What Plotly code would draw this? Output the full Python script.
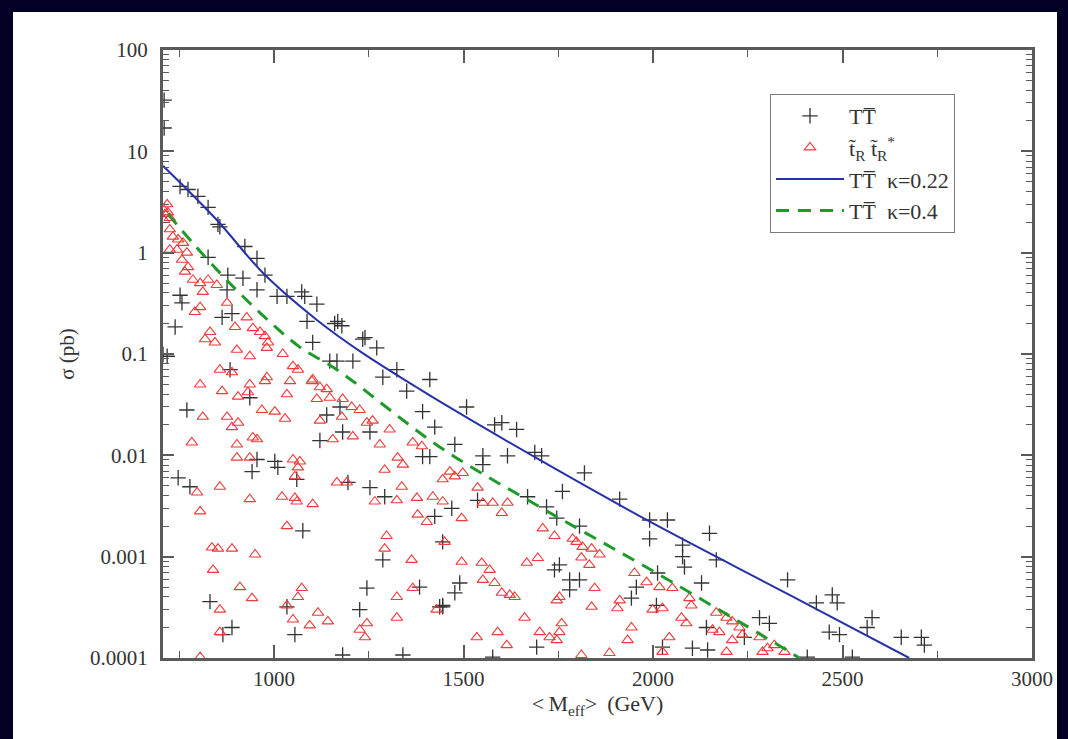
import plotly.graph_objects as go

# ---------------- data ----------------
# TT-bar scan points
tt_mass = [710, 710, 752, 773, 799, 826, 852, 857, 923, 955, 976, 826, 878, 918, 955, 1008, 1034, 1073,
           1081, 1113, 752, 757, 876, 739, 863, 889, 1087, 1102, 1160, 1168, 1179, 1234, 1240, 1271,
           1147, 1166, 1208, 1287, 1324, 1411, 707, 718, 884,
           770, 936, 1139, 1174, 1181, 1253, 1121, 1350, 1392, 1424, 1392, 1411, 955, 1002, 1010, 942,
           747, 778, 1060, 1195, 1253, 1292, 1424, 1076, 1287, 1445, 1245, 1384, 1226, 1437, 1445, 831,
           1034, 889, 1055, 865, 1181, 1340,
           1508, 1582, 1601, 1640, 1688, 1706, 1819, 1761, 1912, 1991, 2038, 2149, 1991, 2078, 2078,
           2083, 2167, 1477, 1551, 1551, 1616, 1669, 1719, 1746, 1806, 1537, 1469, 1753, 1740, 1780,
           1806, 1780, 1490, 1477, 1445, 1956, 1943, 2012, 2128, 2009, 2281, 2307, 2241, 2141, 1693,
           1577, 2104, 2144, 2025, 2355,
           2431, 2473, 2486, 2578, 2565, 2465, 2492, 2655, 2708, 2716, 2407, 2526]
tt_sigma = [32, 17, 4.5, 4.2, 3.6, 2.8, 1.9, 1.8, 1.15, 0.88, 0.6, 0.9, 0.6, 0.56, 0.43, 0.37, 0.37, 0.41,
            0.37, 0.31, 0.38, 0.32, 0.43, 0.185, 0.23, 0.25, 0.21, 0.13, 0.2, 0.21, 0.19, 0.14, 0.145, 0.115,
            0.085, 0.085, 0.085, 0.059, 0.07, 0.056, 0.099, 0.095, 0.07,
            0.028, 0.037, 0.025, 0.03, 0.017, 0.017, 0.014, 0.043, 0.027, 0.019, 0.0097, 0.0097, 0.0091,
            0.0087, 0.0076, 0.0069, 0.006, 0.0049, 0.0058, 0.0054, 0.0048, 0.0039, 0.0025, 0.0018,
            0.00093, 0.0014, 0.00049, 0.0005, 0.0003, 0.00032, 0.00032, 0.00036, 0.00032, 0.0002,
            0.00017, 0.00017, 0.000107, 0.000107,
            0.03, 0.02, 0.021, 0.018, 0.0107, 0.0099, 0.0067, 0.0044, 0.0037, 0.0023, 0.0023, 0.0017,
            0.0015, 0.0013, 0.001, 0.00079, 0.00093, 0.0128, 0.0099, 0.0081, 0.0099, 0.0039, 0.0031,
            0.0024, 0.002, 0.0036, 0.003, 0.00083, 0.00074, 0.00059, 0.00059, 0.00047, 0.00055, 0.00044,
            0.00033, 0.0005, 0.00039, 0.00069, 0.00055, 0.00033, 0.00025, 0.00022, 0.00016, 0.0002,
            0.000128, 0.000102, 0.000125, 0.00012, 0.000128, 0.00059,
            0.00035, 0.00042, 0.00035, 0.00025, 0.0002, 0.00018, 0.00017, 0.00016, 0.00016, 0.000134,
            0.000102, 0.000102]

# stop pair scan points
st_mass = [707, 712, 720, 725, 710, 718, 725, 733, 747, 760, 725, 744, 770, 757, 773, 765, 786, 805, 826,
           849, 812, 876, 805, 791, 928, 897, 831, 818, 844, 944, 963, 976, 984, 981, 902, 936, 1023,
           1050, 1063, 857, 889, 981, 805, 936, 1042, 1102, 1121,
           863, 905, 931, 976, 1034, 968, 1002, 876, 889, 905, 812, 1029, 1100, 1139, 1113, 1147, 1181,
           1179, 1205, 1226, 1245, 1260, 1121, 1155, 1208, 1279, 1305, 783, 902, 944, 955, 902, 936,
           1050, 1068, 1063, 1055, 1292, 1326, 1340, 1366, 1390, 1337, 857, 797, 805, 936, 1021, 1055,
           1060, 1102, 1166, 1192, 1266, 1324, 1377, 1419, 1445, 1379, 1403, 1034, 1297, 1292, 1363,
           836, 852, 889, 950, 839, 910, 942, 1073, 1063, 857, 1034, 1324, 1366, 1429, 1116, 1094, 1142,
           1050, 1324, 1226, 1245, 1240, 857, 805,
           1464, 1477, 1498, 1537, 1551, 1577, 1601, 1616, 1495, 1445, 1450, 1495, 1548, 1569, 1551,
           1582, 1601, 1622, 1635, 1667, 1696, 1709, 1740, 1788, 1798, 1814, 1838, 1859, 1811, 1832,
           1753, 1746, 1846, 1838, 1912, 1906, 1951, 1983, 2017, 2051, 1999, 2025, 2096, 2101, 2075,
           2088, 2167, 2194, 2209, 2228, 2157, 2175, 2209, 2236, 2281, 2302, 2194, 2289, 1661, 1590,
           1535, 1614, 1701, 1727, 1746, 1759, 1753, 1811, 1885, 1933, 1943, 2043, 2025, 2320, 2347]
st_sigma = [2.7, 2.4, 2.5, 2.2, 2.1, 3.0, 1.7, 1.44, 1.35, 1.25, 1.07, 1.07, 1.0, 0.85, 0.72, 0.65, 0.54,
            0.5, 0.54, 0.48, 0.41, 0.32, 0.29, 0.26, 0.23, 0.185, 0.165, 0.14, 0.13, 0.18, 0.165, 0.15,
            0.13, 0.115, 0.11, 0.095, 0.1, 0.076, 0.07, 0.07, 0.066, 0.059, 0.05, 0.05, 0.054, 0.056, 0.047,
            0.043, 0.038, 0.042, 0.054, 0.04, 0.028, 0.027, 0.024, 0.019, 0.021, 0.024, 0.023, 0.054,
            0.045, 0.036, 0.037, 0.036, 0.024, 0.03, 0.028, 0.021, 0.022, 0.022, 0.0144, 0.0154, 0.0128,
            0.018, 0.0134, 0.0128, 0.015, 0.0144, 0.0095, 0.0095, 0.0091, 0.0087, 0.0076, 0.0062, 0.0072,
            0.0095, 0.0081, 0.0134, 0.0123, 0.0049, 0.0049, 0.0043, 0.0028, 0.0037, 0.0039, 0.0038,
            0.0035, 0.0033, 0.0054, 0.0054, 0.0035, 0.0036, 0.0038, 0.0039, 0.0058, 0.0026, 0.0022,
            0.002, 0.0016, 0.0012, 0.00093,
            0.00123, 0.0012, 0.0012, 0.00105, 0.00074, 0.0005, 0.00039, 0.00049, 0.0004, 0.0003, 0.00033,
            0.0004, 0.00049, 0.0003, 0.00028, 0.00021, 0.00023, 0.00024, 0.00025, 0.00019, 0.00022,
            0.00016, 0.00018, 0.000102,
            0.0069, 0.0062, 0.0067, 0.0048, 0.0034, 0.0034, 0.0027, 0.0034, 0.0024, 0.0035, 0.0014,
            0.00089, 0.00087, 0.00074, 0.00059, 0.00055, 0.00044, 0.00042, 0.0004, 0.00087, 0.00097,
            0.0019, 0.0016, 0.0015, 0.0014, 0.00125, 0.0012, 0.00105, 0.00098, 0.00083, 0.0004, 0.00037,
            0.00049, 0.00032, 0.00037, 0.00031, 0.00069, 0.00056, 0.0005, 0.00049, 0.0003, 0.00031,
            0.00039, 0.00033, 0.00025, 0.00022, 0.00028, 0.00025, 0.00023, 0.0002, 0.00019, 0.00018,
            0.00015, 0.00017, 0.00016, 0.000125, 0.000115, 0.000115, 0.00025, 0.00018, 0.00016,
            0.000134, 0.00018, 0.00016, 0.00015, 0.00022, 0.00018, 0.000107, 0.000112, 0.00015, 0.0002,
            0.00016, 0.000115, 0.000134, 0.000115]

# TT-bar theory curves
k022_mass = [707, 849, 971, 1113, 1234, 1376, 1437, 1701, 1998, 2360, 2676]
k022_sigma = [7.2, 2.1, 0.63, 0.217, 0.102, 0.047, 0.034, 0.009, 0.00215, 0.00042, 0.0001]
k04_mass = [720, 849, 963, 1068, 1166, 1437, 1701, 2009, 2352, 2386]
k04_sigma = [2.4, 0.68, 0.255, 0.117, 0.07, 0.0121, 0.0031, 0.00069, 0.00012, 0.0001]

x_ticks = [1000, 1500, 2000, 2500, 3000]
y_ticks = [0.0001, 0.001, 0.01, 0.1, 1, 10, 100]
y_tick_text = ["0.0001", "0.001", "0.01", "0.1", "1", "10", "100"]

# ---------------- figure ----------------
FONT = "Liberation Serif"
AX = "#5a5a5a"
TXT = "#333333"
NAVY = "#030026"
TTB = "TT\u0305"

fig = go.Figure()
fig.add_trace(go.Scatter(
    x=tt_mass, y=tt_sigma, mode="markers", name=TTB, legendgroup="a",
    marker=dict(symbol="cross-thin-open", size=11, color="#333333",
                line=dict(color="#333333", width=1.3))))
fig.add_trace(go.Scatter(
    x=st_mass, y=st_sigma, mode="markers", legendgroup="b",
    name="t\u0303<sub>R</sub> t\u0303<sub>R</sub><sup>*</sup>",
    marker=dict(symbol="triangle-up-open", size=10, color="#f03a3a",
                line=dict(color="#f03a3a", width=1.1))))
fig.add_trace(go.Scatter(
    x=k022_mass, y=k022_sigma, mode="lines", legendgroup="c",
    name=TTB + "\u00a0\u00a0\u03ba=0.22", line=dict(color="#2632a8", width=2, shape="spline")))
fig.add_trace(go.Scatter(
    x=k04_mass, y=k04_sigma, mode="lines", legendgroup="d",
    name=TTB + "\u00a0\u00a0\u03ba=0.4",
    line=dict(color="#1f9a2a", width=3, dash="13px,9px", shape="spline")))

L, R, T, B = 163, 36, 50, 81
W, H = 1068, 739
pw, ph = W - L - R, H - T - B


def px_x(p):
    return (p - L) / pw


def px_y(p):
    return (T + ph - p) / ph


# dark navy frame around the white page (left, top, right)
frame = [(0, 13, 0, H), (0, W, 0, 6), (1057, W, 0, H)]
for x0, x1, y0, y1 in frame:
    fig.add_shape(type="rect", xref="paper", yref="paper", layer="above",
                  x0=px_x(x0) - (0.01 if x0 == 0 else 0), x1=px_x(x1) + (0.01 if x1 == W else 0),
                  y0=px_y(y1) - 0.01, y1=px_y(y0) + 0.01,
                  fillcolor=NAVY, line=dict(width=0))

fig.update_layout(
    width=W, height=H,
    margin=dict(l=L, r=R, t=T, b=B),
    paper_bgcolor="white", plot_bgcolor="white",
    font=dict(family=FONT, size=21, color=TXT),
    showlegend=True,
    legend=dict(x=px_x(770), y=px_y(94), xanchor="left", yanchor="top",
                bgcolor="white", bordercolor="#7a7a7a", borderwidth=1,
                font=dict(family=FONT, size=22, color=TXT),
                traceorder="grouped", tracegroupgap=0, itemwidth=68),
    xaxis=dict(range=[707, 3000], tickvals=x_ticks, ticks="inside", ticklen=13, tickwidth=1.5,
               tickcolor=AX, showline=True, linecolor=AX, linewidth=3, mirror="ticks",
               showgrid=False, zeroline=False, ticklabelstandoff=0,
               tickfont=dict(family=FONT, size=21, color=TXT),
               minor=dict(dtick=250, tick0=0, ticks="inside", ticklen=7, tickwidth=1.2,
                          tickcolor=AX, showgrid=False),
               title=dict(text="&lt;\u2009M<sub>eff</sub>&gt;\u2009 (GeV)", standoff=0,
                          font=dict(family=FONT, size=22, color=TXT))),
    yaxis=dict(type="log", range=[-4, 2], tickvals=y_ticks, ticktext=y_tick_text,
               ticks="inside", ticklen=11, tickwidth=1.5, tickcolor=AX,
               showline=True, linecolor=AX, linewidth=3, mirror="ticks",
               showgrid=False, zeroline=False, ticklabelstandoff=8,
               tickfont=dict(family=FONT, size=21, color=TXT),
               minor=dict(tickmode="array",
                          tickvals=[m * 10.0 ** k for k in range(-4, 2) for m in range(2, 10)],
                          ticks="inside", ticklen=6, tickwidth=1.2, tickcolor=AX, showgrid=False),
               title=dict(text="\u03c3 (pb)", standoff=10,
                          font=dict(family=FONT, size=21, color=TXT))),
)

fig.write_html("out.html")
